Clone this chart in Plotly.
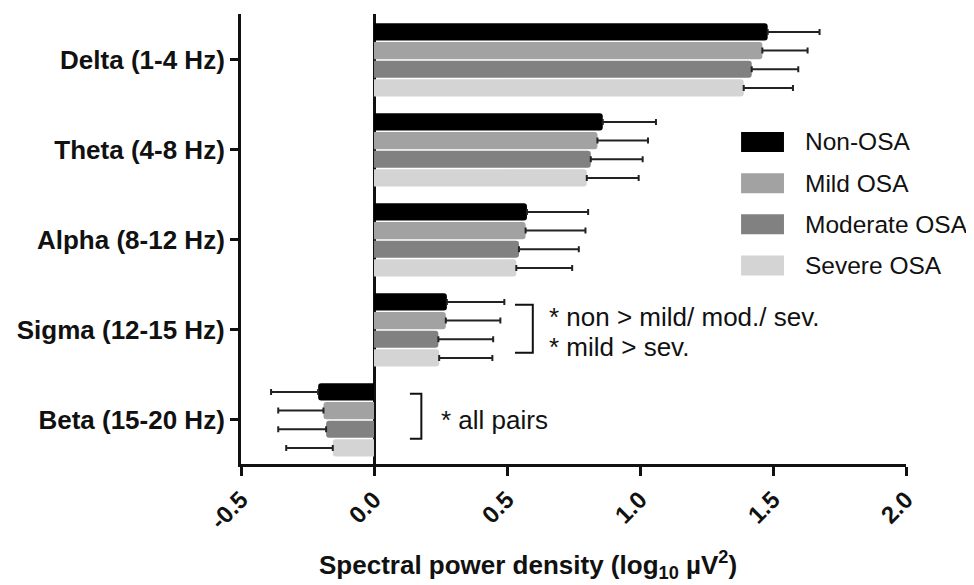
import plotly.graph_objects as go

bands = ["Delta (1-4 Hz)", "Theta (4-8 Hz)", "Alpha (8-12 Hz)", "Sigma (12-15 Hz)", "Beta (15-20 Hz)"]
groups = ["Non-OSA", "Mild OSA", "Moderate OSA", "Severe OSA"]
colors = ["#000000", "#a2a2a2", "#818181", "#d4d4d4"]

x_tick_vals = [-0.5, 0.0, 0.5, 1.0, 1.5, 2.0]
x_tick_text = ["-0.5", "0.0", "0.5", "1.0", "1.5", "2.0"]

non_osa = [1.48, 0.86, 0.575, 0.274, -0.21]
mild_osa = [1.46, 0.84, 0.57, 0.27, -0.19]
moderate_osa = [1.42, 0.815, 0.545, 0.242, -0.18]
severe_osa = [1.39, 0.80, 0.535, 0.245, -0.155]

non_err = [0.195, 0.20, 0.23, 0.216, 0.177]
mild_err = [0.17, 0.19, 0.225, 0.205, 0.17]
moderate_err = [0.175, 0.195, 0.225, 0.206, 0.18]
severe_err = [0.185, 0.195, 0.21, 0.20, 0.175]

series = [non_osa, mild_osa, moderate_osa, severe_osa]
errors = [non_err, mild_err, moderate_err, severe_err]

FONT = "Liberation Sans, Arial, sans-serif"

fig = go.Figure()
for name, vals, errs, col in zip(groups, series, errors, colors):
    plus = [e if v >= 0 else 0 for v, e in zip(vals, errs)]
    minus = [e if v < 0 else 0 for v, e in zip(vals, errs)]
    fig.add_trace(go.Bar(
        y=bands, x=vals, orientation="h", name=name,
        marker=dict(color=col, line=dict(width=0)),
        error_x=dict(type="data", symmetric=False, array=plus, arrayminus=minus,
                     color="#222222", thickness=2, width=3),
        showlegend=False,
    ))

# custom legend (swatches + labels)
leg_x0, leg_x1 = 0.752, 0.8165
leg_top = 0.7156
leg_step = 0.0915
for i, (name, col) in enumerate(zip(groups, colors)):
    yc = leg_top - i * leg_step
    fig.add_shape(type="rect", xref="paper", yref="paper",
                  x0=leg_x0, x1=leg_x1, y0=yc - 0.0222, y1=yc + 0.0222,
                  fillcolor=col, line=dict(width=0))
    fig.add_annotation(xref="paper", yref="paper", x=0.845, y=yc,
                       text=name, showarrow=False, xanchor="left", yanchor="middle",
                       font=dict(family=FONT, size=24.5, color="#111"))

# significance brackets
def bracket(xl, xr, yt, yb):
    fig.add_shape(type="path", xref="x", yref="y",
                  path=f"M {xl},{yt} L {xr},{yt} L {xr},{yb} L {xl},{yb}",
                  line=dict(color="#111", width=2))

bracket(0.53, 0.597, 2.72, 3.255)
bracket(0.135, 0.178, 3.71, 4.21)

fig.add_annotation(x=0.65, y=2.856, xref="x", yref="y", text="* non > mild/ mod./ sev.",
                   showarrow=False, xanchor="left", yanchor="middle",
                   font=dict(family=FONT, size=26, color="#111"))
fig.add_annotation(x=0.65, y=3.19, xref="x", yref="y", text="* mild > sev.",
                   showarrow=False, xanchor="left", yanchor="middle",
                   font=dict(family=FONT, size=26, color="#111"))
fig.add_annotation(x=0.245, y=4.0, xref="x", yref="y", text="* all pairs",
                   showarrow=False, xanchor="left", yanchor="middle",
                   font=dict(family=FONT, size=26, color="#111"))

# x-axis title (centred where the reference places it)
fig.add_annotation(xref="paper", yref="paper", x=0.4316, y=-0.225,
                   text="<b>Spectral power density (log<sub>10</sub> µV<sup>2</sup>)</b>",
                   showarrow=False, xanchor="center", yanchor="middle",
                   font=dict(family=FONT, size=26, color="#111"))

# page body has an 8px margin, so the figure is sized/offset to compensate
fig.update_layout(
    width=966, height=577,
    margin=dict(l=233, r=68, t=6, b=121),
    plot_bgcolor="white", paper_bgcolor="white",
    barmode="group", bargap=0.17, bargroupgap=0.08,
    barcornerradius=3,
    font=dict(family=FONT, color="#111"),
    showlegend=False,
)
fig.update_xaxes(
    range=[-0.5, 2.0], tickvals=x_tick_vals, ticktext=x_tick_text,
    tickangle=-45, tickfont=dict(family=FONT, size=24, color="#111", weight="bold"),
    showline=True, linecolor="#111", linewidth=3,
    ticks="outside", ticklen=9, tickwidth=3, tickcolor="#111",
    showgrid=False, zeroline=True, zerolinecolor="#111", zerolinewidth=2.5,
    automargin=False,
)
fig.update_yaxes(
    categoryorder="array", categoryarray=bands, range=[4.49, -0.51],
    tickfont=dict(family=FONT, size=26, color="#111", weight="bold"),
    showline=True, linecolor="#111", linewidth=3,
    ticks="outside", ticklen=8, tickwidth=2.5, tickcolor="#111",
    showgrid=False, zeroline=False, automargin=False,
)

fig.write_html("out.html")
